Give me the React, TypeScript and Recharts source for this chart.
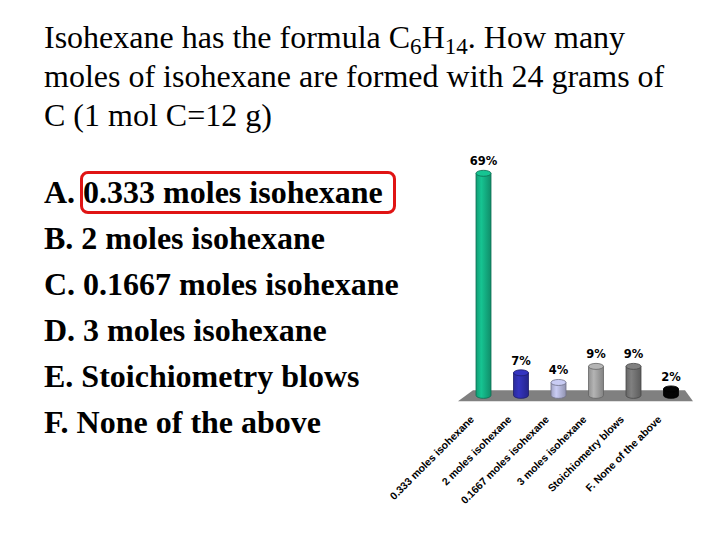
import React from 'react';
import { BarChart, Bar, XAxis, YAxis, LabelList, Cell, ReferenceArea } from 'recharts';

const answers = [
  'A. 0.333 moles isohexane',
  'B. 2 moles isohexane',
  'C. 0.1667 moles isohexane',
  'D. 3 moles isohexane',
  'E. Stoichiometry blows',
  'F. None of the above',
];

const categories = [
  '0.333 moles isohexane',
  '2 moles isohexane',
  '0.1667 moles isohexane',
  '3 moles isohexane',
  'Stoichiometry blows',
  'F. None of the above',
];

const percents = [69, 7, 4, 9, 9, 2];

const barColors = ['#16C492', '#3434C0', '#C9CCF4', '#B4B4B4', '#808080', '#050505'];

const data = categories.map((name, i) => ({ name, value: percents[i] }));

// darken / lighten a hex colour
const shade = (hex: string, k: number) => {
  const n = parseInt(hex.slice(1), 16);
  const f = (c: number) => Math.max(0, Math.min(255, Math.round(c * k)));
  const r = f((n >> 16) & 255), g = f((n >> 8) & 255), b = f(n & 255);
  return `rgb(${r},${g},${b})`;
};

const Cylinder = (props: any) => {
  const { x, y, width, height, fill, index } = props;
  const rx = width / 2;
  const ry = 3;
  const bot = y + height;
  const id = `cyl${index}`;
  const edge = shade(fill, 0.55);
  return (
    <g>
      <defs>
        <linearGradient id={id} x1="0" x2="1" y1="0" y2="0">
          <stop offset="0" stopColor={shade(fill, 0.8)} />
          <stop offset="0.35" stopColor={fill} />
          <stop offset="1" stopColor={shade(fill, 0.72)} />
        </linearGradient>
      </defs>
      <path
        d={`M${x},${y} L${x},${bot} A${rx},${ry} 0 0 0 ${x + width},${bot} L${x + width},${y} Z`}
        fill={`url(#${id})`}
        stroke={edge}
        strokeWidth={0.8}
      />
      <ellipse cx={x + rx} cy={y} rx={rx} ry={ry} fill={fill} stroke={edge} strokeWidth={0.8} />
    </g>
  );
};

const Floor = (props: any) => {
  const { x, y, width, height } = props;
  const d = `M${x - 7},${y + height} L${x + width + 3},${y + height} L${x + width - 5},${y} L${x + 8},${y} Z`;
  return <path d={d} fill="#808080" />;
};

const RotTick = (props: any) => {
  const { x, y, payload } = props;
  const tx = x - 9;
  const ty = y + 7;
  return (
    <text
      x={tx}
      y={ty}
      transform={`rotate(-45 ${tx} ${ty})`}
      textAnchor="end"
      fontSize={10.5}
      fontWeight="bold"
      fontFamily="'Liberation Sans', Arial, sans-serif"
      fill="#000"
    >
      {payload.value}
    </text>
  );
};

const PollChart = () => (
  <BarChart
    width={330}
    height={380}
    data={data}
    margin={{ top: 14, right: 20, bottom: 0, left: 85 }}
  >
    <XAxis
      dataKey="name"
      axisLine={false}
      tickLine={false}
      interval={0}
      height={115}
      tick={<RotTick />}
    />
    <YAxis hide domain={[-3, 75]} />
    <ReferenceArea y1={-1.8} y2={1.6} shape={<Floor />} ifOverflow="visible" />
    <Bar dataKey="value" barSize={15} shape={<Cylinder />} isAnimationActive={false}>
      {data.map((d, i) => (
        <Cell key={d.name} fill={barColors[i]} />
      ))}
      <LabelList
        dataKey="value"
        position="top"
        offset={8}
        formatter={(v: any) => `${v}%`}
        style={{ fontFamily: "'DejaVu Sans', sans-serif", fontWeight: 'bold', fontSize: 11.5, fill: '#000' }}
      />
    </Bar>
  </BarChart>
);

const sub: React.CSSProperties = { fontSize: '0.72em', position: 'relative', top: '0.28em', lineHeight: 0 };

export default function App() {
  return (
    <div
      style={{
        position: 'absolute',
        left: 0,
        top: 0,
        width: 720,
        height: 540,
        background: '#fff',
        overflow: 'hidden',
        fontFamily: "'Liberation Serif', 'Times New Roman', serif",
        color: '#000',
      }}
    >
      <div style={{ position: 'absolute', left: 44, top: 18, width: 680, fontSize: 32, lineHeight: '39px', whiteSpace: 'nowrap' }}>
        Isohexane has the formula C<span style={sub}>6</span>H<span style={sub}>14</span>. How many
        <br />
        moles of isohexane are formed with 24 grams of
        <br />
        C (1 mol C=12 g)
      </div>
      <div style={{ position: 'absolute', left: 44, top: 169, fontSize: 32, lineHeight: '46px', fontWeight: 'bold' }}>
        {answers.map((a) => (
          <div key={a} style={{ whiteSpace: 'nowrap' }}>{a}</div>
        ))}
      </div>
      <div
        style={{
          position: 'absolute',
          left: 80,
          top: 171,
          width: 316,
          height: 43,
          border: '3px solid #E01414',
          borderRadius: 8,
          boxSizing: 'border-box',
        }}
      />
      <div style={{ position: 'absolute', left: 380, top: 140 }}>
        <PollChart />
      </div>
    </div>
  );
}
